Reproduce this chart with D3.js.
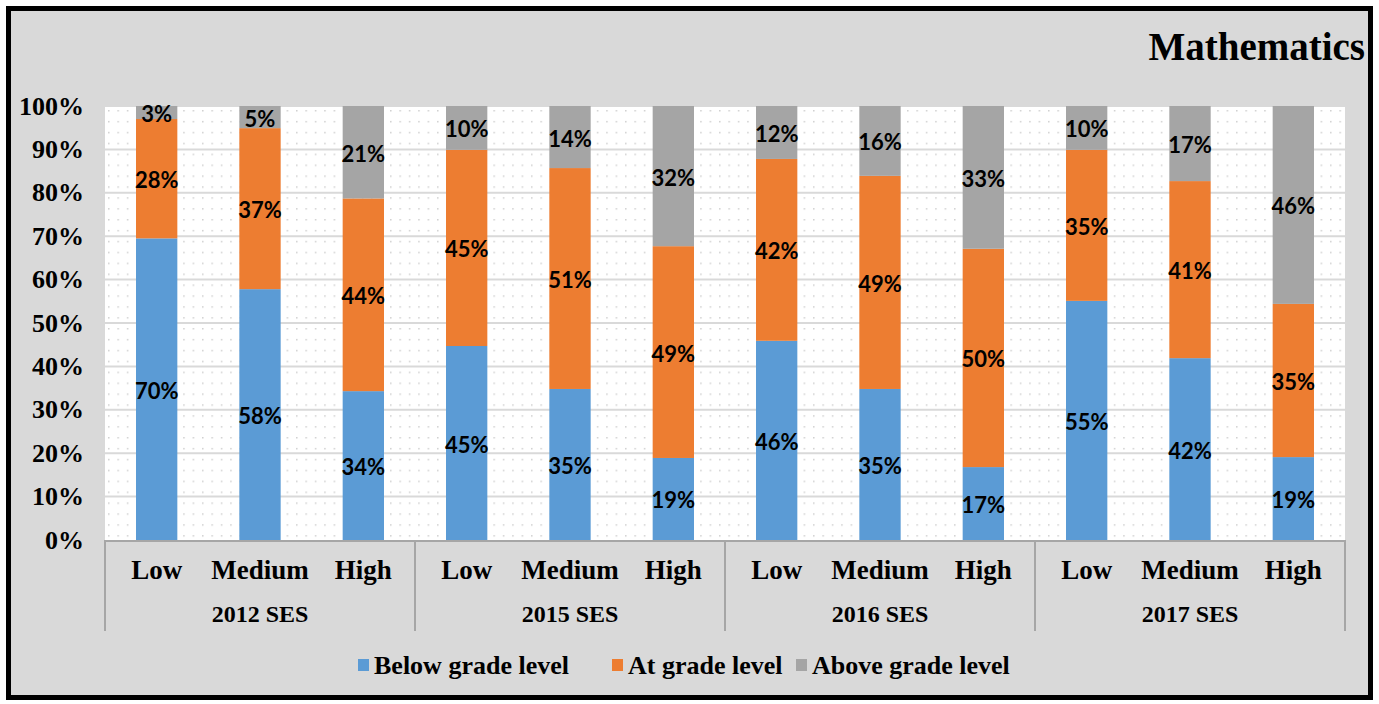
<!DOCTYPE html>
<html>
<head>
<meta charset="utf-8">
<title>Mathematics</title>
<script src="https://d3js.org/d3.v7.min.js"></script>
<style>
  body { margin: 0; background: #fff; }
  .serif { font-family: "Liberation Serif", "Times New Roman", serif; font-weight: bold; fill: #000; }
  .vlabel { font-family: Lato, "Open Sans", sans-serif; font-weight: bold; font-size: 22px; fill: #000; }
</style>
</head>
<body>
<script>
// chart data
var groups = ["2012 SES", "2015 SES", "2016 SES", "2017 SES"];
var levels = ["Low", "Medium", "High"];
var seriesNames = ["Below grade level", "At grade level", "Above grade level"];
var below = [69.5, 57.8, 34.3, 44.7, 34.8, 18.9, 45.9, 34.8, 16.8, 55.1, 41.9, 19.1];
var atLevel = [27.5, 37.1, 44.4, 45.2, 50.9, 48.8, 41.9, 49.1, 50.3, 34.8, 40.8, 35.3];
var above = [3.0, 5.1, 21.3, 10.1, 14.3, 32.3, 12.2, 16.1, 32.9, 10.1, 17.3, 45.6];
var yTicks = [0, 10, 20, 30, 40, 50, 60, 70, 80, 90, 100];
var colors = ["#5b9bd5", "#ed7d31", "#a5a5a5"];

var W = 1379, H = 704;
var plot = { left: 105, right: 1345, top: 106, bottom: 540 };

var svg = d3.select("body").append("svg")
    .attr("width", W)
    .attr("height", H);

// background + frame
svg.append("rect")
    .attr("x", 8.5).attr("y", 8.5)
    .attr("width", 1362).attr("height", 689)
    .attr("fill", "#d9d9d9")
    .attr("stroke", "#000")
    .attr("stroke-width", 5);

// dotted fill of plot area
var defs = svg.append("defs");
var pat = defs.append("pattern")
    .attr("id", "dots")
    .attr("patternUnits", "userSpaceOnUse")
    .attr("width", 9.4).attr("height", 10.9)
    .attr("x", plot.left + 3).attr("y", plot.top + 4);
pat.append("rect").attr("width", 9.4).attr("height", 10.9).attr("fill", "#fff");
pat.append("rect").attr("x", 0).attr("y", 0).attr("width", 1.5).attr("height", 1.5).attr("fill", "#d0d0d0");

svg.append("rect")
    .attr("x", plot.left).attr("y", plot.top)
    .attr("width", plot.right - plot.left)
    .attr("height", plot.bottom - plot.top)
    .attr("fill", "url(#dots)");

var cats = [];
groups.forEach(function(g, gi) {
    levels.forEach(function(l) { cats.push({ group: g, level: l, gi: gi }); });
});

var x = d3.scaleBand()
    .domain(d3.range(cats.length))
    .range([plot.left, plot.right])
    .paddingInner(0.6)
    .paddingOuter(0.3);

var y = d3.scaleLinear()
    .domain([0, 100])
    .range([plot.bottom, plot.top]);

// gridlines
svg.append("g")
    .selectAll("line")
    .data(yTicks.filter(function(t) { return t > 0; }))
    .enter().append("line")
    .attr("x1", plot.left).attr("x2", plot.right)
    .attr("y1", function(d) { return y(d); })
    .attr("y2", function(d) { return y(d); })
    .attr("stroke", "#d9d9d9")
    .attr("stroke-width", 2);

// y axis labels
svg.append("g")
    .selectAll("text")
    .data(yTicks)
    .enter().append("text")
    .attr("class", "serif")
    .attr("x", 84)
    .attr("y", function(d) { return y(d); })
    .attr("text-anchor", "end")
    .attr("dominant-baseline", "central")
    .style("font-size", "26px")
    .text(function(d) { return d + "%"; });

// stacked bars
var rows = cats.map(function(c, i) {
    return { i: i, below: below[i], at: atLevel[i], above: above[i] };
});
var stack = d3.stack().keys(["below", "at", "above"]);
var layers = stack(rows);

var layerG = svg.append("g").selectAll("g")
    .data(layers)
    .enter().append("g")
    .attr("fill", function(d, k) { return colors[k]; });

layerG.selectAll("rect")
    .data(function(d) { return d; })
    .enter().append("rect")
    .attr("x", function(d) { return x(d.data.i); })
    .attr("width", x.bandwidth())
    .attr("y", function(d) { return y(d[1]); })
    .attr("height", function(d) { return y(d[0]) - y(d[1]); });

layerG.selectAll("text")
    .data(function(d) { return d; })
    .enter().append("text")
    .attr("class", "vlabel")
    .attr("x", function(d) { return x(d.data.i) + x.bandwidth() / 2; })
    .attr("y", function(d) { return (y(d[0]) + y(d[1])) / 2 + 1; })
    .attr("text-anchor", "middle")
    .attr("dominant-baseline", "central")
    .text(function(d) { return Math.round(d[1] - d[0]) + "%"; });

// x axis
var axisColor = "#a6a6a6";
svg.append("line")
    .attr("x1", plot.left).attr("x2", plot.right)
    .attr("y1", plot.bottom + 1).attr("y2", plot.bottom + 1)
    .attr("stroke", axisColor).attr("stroke-width", 2);

var groupWidth = (plot.right - plot.left) / groups.length;
svg.append("g")
    .selectAll("line")
    .data(d3.range(groups.length + 1))
    .enter().append("line")
    .attr("x1", function(d) { return plot.left + d * groupWidth; })
    .attr("x2", function(d) { return plot.left + d * groupWidth; })
    .attr("y1", plot.bottom)
    .attr("y2", 631)
    .attr("stroke", axisColor)
    .attr("stroke-width", 2);

svg.append("g")
    .selectAll("text")
    .data(cats)
    .enter().append("text")
    .attr("class", "serif")
    .attr("x", function(d, i) { return x(i) + x.bandwidth() / 2; })
    .attr("y", 570)
    .attr("text-anchor", "middle")
    .attr("dominant-baseline", "central")
    .style("font-size", "27px")
    .text(function(d) { return d.level; });

svg.append("g")
    .selectAll("text")
    .data(groups)
    .enter().append("text")
    .attr("class", "serif")
    .attr("x", function(d, i) { return plot.left + (i + 0.5) * groupWidth; })
    .attr("y", 614)
    .attr("text-anchor", "middle")
    .attr("dominant-baseline", "central")
    .style("font-size", "24px")
    .text(function(d) { return d; });

// title
svg.append("text")
    .attr("class", "serif")
    .attr("x", 1365)
    .attr("y", 60)
    .attr("text-anchor", "end")
    .style("font-size", "39px")
    .text("Mathematics");

// legend
var legendX = [358, 612, 796];
var legend = svg.append("g").selectAll("g")
    .data(seriesNames)
    .enter().append("g")
    .attr("transform", function(d, i) { return "translate(" + legendX[i] + ",665)"; });

legend.append("rect")
    .attr("x", 0).attr("y", -6)
    .attr("width", 11).attr("height", 12)
    .attr("fill", function(d, i) { return colors[i]; });

legend.append("text")
    .attr("class", "serif")
    .attr("x", 16)
    .attr("y", 0)
    .attr("dominant-baseline", "central")
    .style("font-size", "26px")
    .text(function(d) { return d; });
</script>
</body>
</html>
